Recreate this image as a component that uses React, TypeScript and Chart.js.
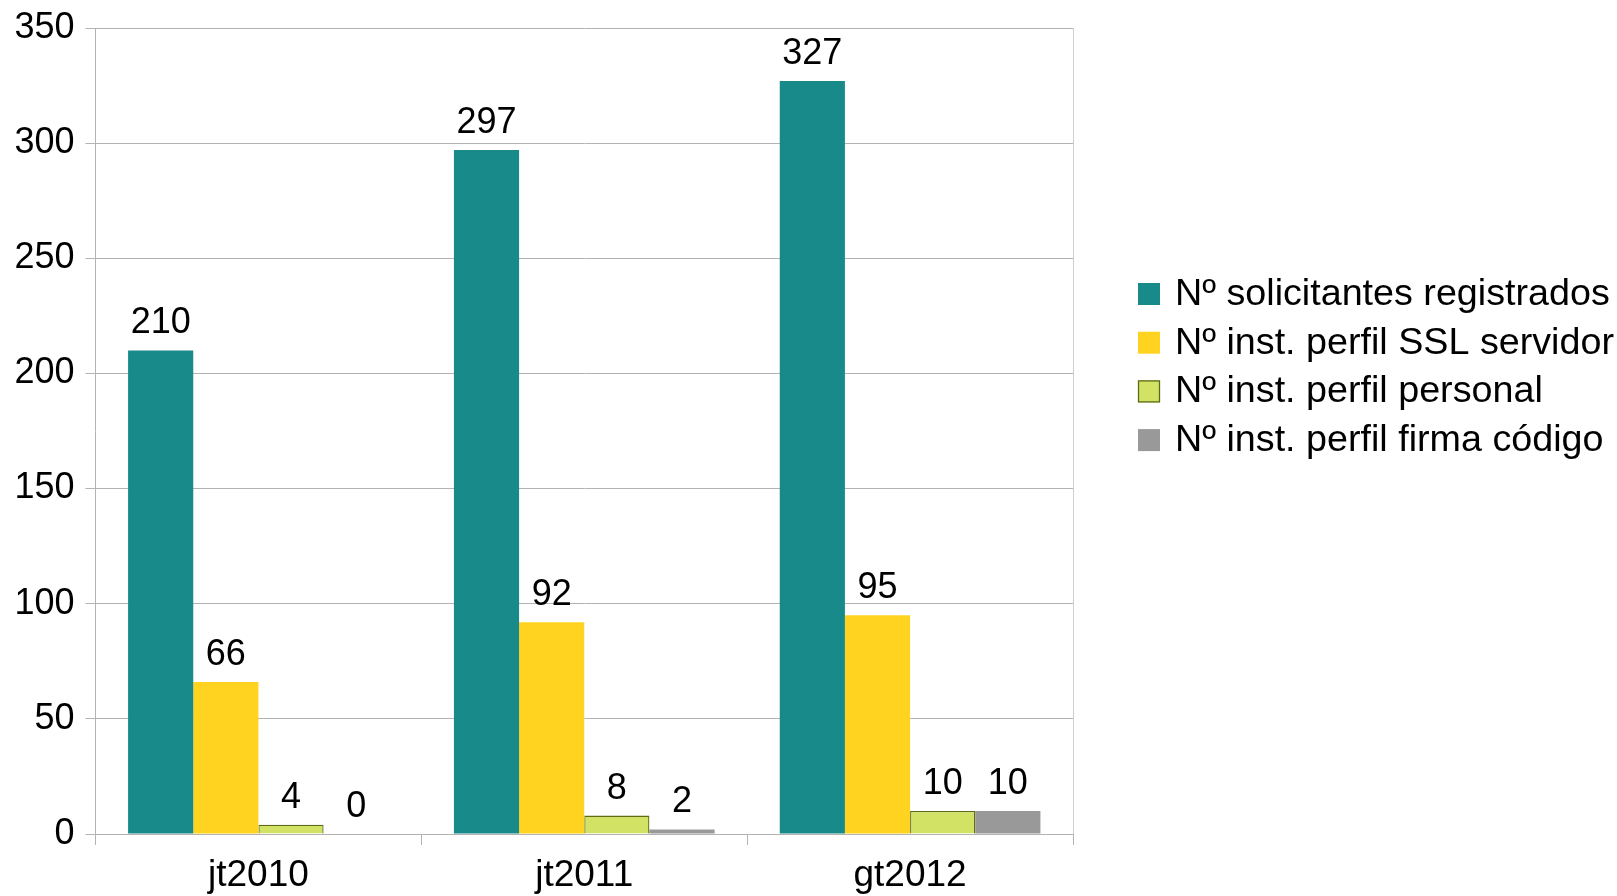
import React, { useEffect, useRef } from "react";
import { Chart, registerables } from "chart.js";

Chart.register(...registerables);

const categories = ["jt2010", "jt2011", "gt2012"];
const seriesNames = [
  "Nº solicitantes registrados",
  "Nº inst. perfil SSL servidor",
  "Nº inst. perfil personal",
  "Nº inst. perfil firma código",
];
const solicitantes = [210, 297, 327];
const sslServidor = [66, 92, 95];
const personal = [4, 8, 10];
const firmaCodigo = [0, 2, 10];
const yTicks = [0, 50, 100, 150, 200, 250, 300, 350];

const FONT = '"Liberation Sans", Arial, sans-serif';
const fills = ["#198a8a", "#ffd320", "#d2e264", "#999999"];
const borders = ["#198a8a", "#ffd320", "#5d6a17", "#999999"];
const borderWidths = [0, 0, 1.3, 0];

const labelsPlugin = {
  id: "valueLabels",
  afterDatasetsDraw(chart: any) {
    const ctx = chart.ctx;
    ctx.save();
    ctx.font = `36px ${FONT}`;
    ctx.fillStyle = "#000";
    ctx.textAlign = "center";
    ctx.textBaseline = "alphabetic";
    chart.data.datasets.forEach((ds: any, di: number) => {
      const meta = chart.getDatasetMeta(di);
      meta.data.forEach((el: any, i: number) => {
        ctx.fillText(String(ds.data[i]), el.x, el.y - 17);
      });
    });
    ctx.restore();
  },
};

const framePlugin = {
  id: "frameAndLegend",
  afterDraw(chart: any) {
    const ctx = chart.ctx;
    const a = chart.chartArea;
    ctx.save();
    ctx.strokeStyle = "#cfcfcf";
    ctx.lineWidth = 1;
    ctx.beginPath();
    ctx.moveTo(a.right + 0.5, a.top);
    ctx.lineTo(a.right + 0.5, a.bottom);
    ctx.stroke();

    // legend
    const boxX = 1138;
    const boxSize = 22;
    const textX = 1175;
    const firstTop = 283;
    const step = 48.7;
    ctx.font = `37.7px ${FONT}`;
    ctx.textAlign = "left";
    ctx.textBaseline = "alphabetic";
    seriesNames.forEach((name, i) => {
      const top = firstTop + i * step;
      ctx.fillStyle = fills[i];
      ctx.fillRect(boxX, top, boxSize, boxSize);
      if (borderWidths[i] > 0) {
        ctx.strokeStyle = borders[i];
        ctx.lineWidth = 1.3;
        ctx.strokeRect(boxX + 0.5, top + 0.5, boxSize - 1, boxSize - 1);
      }
      ctx.fillStyle = "#000";
      ctx.fillText(name, textX, top + boxSize);
    });
    ctx.restore();
  },
};

export default function App() {
  const ref = useRef<HTMLCanvasElement>(null);
  useEffect(() => {
    if (!ref.current) return;
    const values = [solicitantes, sslServidor, personal, firmaCodigo];
    const chart = new Chart(ref.current, {
      type: "bar",
      data: {
        labels: categories,
        datasets: seriesNames.map((n, i) => ({
          label: n,
          data: values[i],
          backgroundColor: fills[i],
          borderColor: borders[i],
          borderWidth: borderWidths[i],
          categoryPercentage: 0.8,
          barPercentage: 1.0,
        })),
      },
      options: {
        animation: false,
        responsive: false,
        devicePixelRatio: 1,
        layout: { padding: { top: 28, right: 544, left: 0, bottom: 0 } },
        plugins: {
          legend: { display: false },
          tooltip: { enabled: false },
        },
        scales: {
          x: {
            grid: {
              display: true,
              drawOnChartArea: false,
              drawTicks: true,
              tickLength: 11,
              color: "#b3b3b3",
              offset: true,
            },
            border: { display: true, color: "#b3b3b3" },
            ticks: {
              color: "#000",
              font: { family: FONT, size: 37 },
              padding: 9,
              maxRotation: 0,
            },
            afterFit: (s: any) => {
              s.height = 62;
              s.paddingLeft = 0;
              s.paddingRight = 0;
            },
          },
          y: {
            min: 0,
            max: 350,
            afterBuildTicks: (s: any) => {
              s.ticks = yTicks.map((v) => ({ value: v }));
            },
            grid: {
              color: "#b3b3b3",
              drawTicks: true,
              tickLength: 10,
            },
            border: { display: true, color: "#b3b3b3" },
            ticks: {
              color: "#000",
              font: { family: FONT, size: 36 },
              padding: 11,
            },
            afterFit: (s: any) => {
              s.width = 95.5;
              s.paddingTop = 0;
              s.paddingBottom = 0;
            },
          },
        },
      },
      plugins: [labelsPlugin, framePlugin],
    });
    return () => chart.destroy();
  }, []);
  return (
    <div style={{ position: "absolute", left: 0, top: 0, width: 1617, height: 896, background: "#fff" }}>
      <canvas ref={ref} width={1617} height={896} style={{ display: "block" }} />
    </div>
  );
}
